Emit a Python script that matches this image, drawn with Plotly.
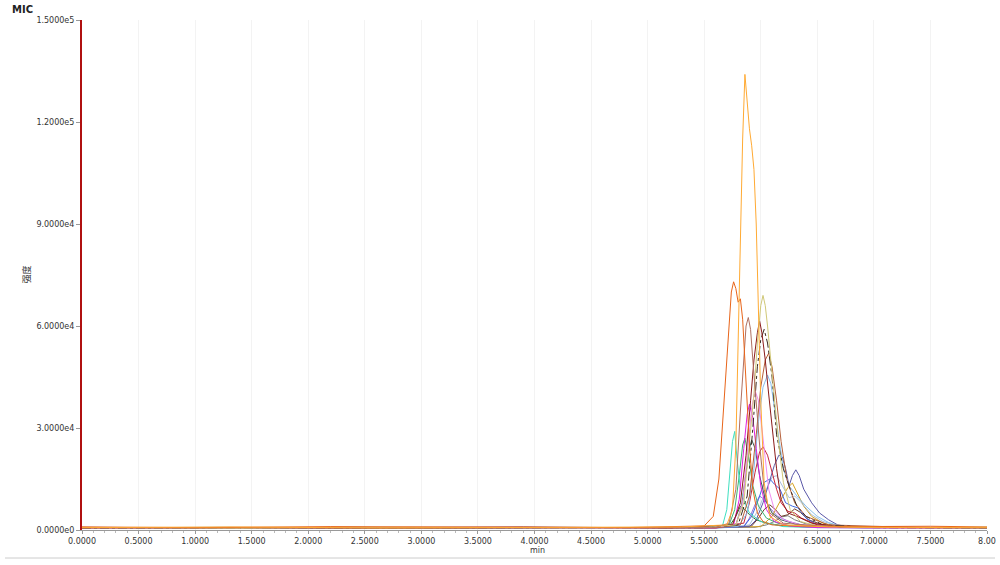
import plotly.graph_objects as go

# ---------------- data ----------------
x_tickvals = [0, 0.5, 1, 1.5, 2, 2.5, 3, 3.5, 4, 4.5, 5, 5.5, 6, 6.5, 7, 7.5, 8]
x_ticktext = ["0.0000", "0.5000", "1.0000", "1.5000", "2.0000", "2.5000", "3.0000", "3.5000",
              "4.0000", "4.5000", "5.0000", "5.5000", "6.0000", "6.5000", "7.0000", "7.5000", "8.00"]
y_tickvals = [0, 30000, 60000, 90000, 120000, 150000]
y_ticktext = ["0.0000e0", "3.0000e4", "6.0000e4", "9.0000e4", "1.2000e5", "1.5000e5"]

gray_t = [0, 2.0, 4.0, 5.6, 5.95, 6.05, 6.12, 6.18, 6.24, 6.3, 6.4, 6.6, 7.5, 8]
gray_i = [500, 600, 500, 600, 800, 1500, 2500, 3800, 4200, 3000, 1800, 900, 600, 500]

darkgreen_t = [0, 1.8, 3.6, 5.4, 5.72, 5.78, 5.82, 5.86, 5.9, 5.96, 6.05, 6.2, 6.5, 7.5, 8]
darkgreen_i = [600, 500, 700, 600, 1000, 4000, 7000, 6000, 4500, 3000, 2000, 1200, 800, 600, 500]

mpurple_t = [0, 1.7, 3.3, 5.5, 5.85, 5.9, 5.95, 5.99, 6.03, 6.08, 6.15, 6.25, 6.4, 7.2, 8]
mpurple_i = [500, 700, 600, 600, 1000, 3500, 7500, 10000, 9000, 6500, 4000, 2500, 1200, 600, 500]

sienna_t = [0, 2.2, 4.4, 5.6, 5.92, 5.98, 6.03, 6.08, 6.13, 6.18, 6.24, 6.3, 6.35, 6.42, 6.55, 6.75, 7.5, 8]
sienna_i = [700, 600, 500, 700, 1200, 3500, 6000, 7400, 6000, 4000, 4500, 6200, 5200, 3000, 1500, 800, 600, 700]

goldenrod_t = [0, 1.4, 2.8, 4.2, 5.6, 6.0, 6.1, 6.18, 6.24, 6.28, 6.32, 6.38, 6.45, 6.55, 6.7, 7.4, 8]
goldenrod_i = [600, 700, 500, 600, 700, 1000, 4000, 9000, 12500, 13800, 11000, 7000, 4000, 2000, 900, 600, 700]

steelblue_t = [0, 1.6, 3.1, 4.6, 5.7, 5.9, 5.98, 6.05, 6.1, 6.14, 6.2, 6.25, 6.3, 6.36, 6.45, 6.55, 6.7, 7.3, 8]
steelblue_i = [500, 600, 700, 500, 700, 1500, 6000, 12000, 15500, 16000, 12500, 9500, 10000, 8000, 4500, 2500, 1100, 600, 500]

royalblue_t = [0, 1.3, 2.7, 4.1, 5.6, 5.85, 5.92, 5.98, 6.03, 6.08, 6.12, 6.17, 6.22, 6.28, 6.33, 6.4, 6.5, 6.65, 7.4, 8]
royalblue_i = [600, 500, 600, 700, 600, 1000, 4000, 9000, 14000, 15000, 13500, 12000, 8000, 7000, 6500, 3500, 1500, 800, 600, 500]

slateblue_t = [0, 1.5, 3.0, 4.5, 5.6, 5.9, 5.96, 6.02, 6.08, 6.12, 6.16, 6.19, 6.22, 6.25, 6.28, 6.31, 6.34, 6.38,
               6.45, 6.52, 6.6, 6.68, 6.8, 7.4, 8]
slateblue_i = [600, 500, 700, 600, 700, 1000, 3000, 8000, 15000, 19000, 22000, 21500, 18000, 13000, 16000, 17700,
               16000, 12000, 8000, 5000, 3000, 1500, 800, 600, 500]

crimson_t = [0, 1.9, 3.7, 5.5, 5.85, 5.9, 5.95, 5.99, 6.02, 6.06, 6.1, 6.14, 6.18, 6.24, 6.3, 6.36, 6.5, 6.7, 7.6, 8]
crimson_i = [500, 600, 500, 700, 2000, 8000, 17000, 23000, 24500, 22000, 17000, 12000, 8000, 5500, 5000, 3500, 1500, 800, 600, 500]

slategray_t = [0, 1.2, 2.6, 4.0, 5.5, 5.78, 5.83, 5.87, 5.9, 5.92, 5.95, 5.99, 6.04, 6.1, 6.18, 6.3, 6.5, 7.2, 8]
slategray_i = [600, 700, 500, 600, 700, 1500, 7000, 17000, 24000, 26500, 24000, 16000, 9000, 5000, 3000, 1800, 900, 600, 500]

seagreen_t = [0, 1.6, 3.4, 5.5, 5.72, 5.77, 5.81, 5.84, 5.86, 5.89, 5.93, 5.98, 6.05, 6.15, 6.3, 7.0, 8]
seagreen_i = [500, 700, 600, 600, 1500, 6000, 16000, 25000, 27000, 22000, 13000, 7000, 3500, 2000, 1000, 600, 500]

aqua_t = [0, 1.0, 2.4, 3.8, 5.3, 5.66, 5.7, 5.73, 5.75, 5.77, 5.79, 5.82, 5.86, 5.9, 6.0, 6.2, 6.5, 7.3, 8]
aqua_i = [700, 500, 800, 600, 700, 1000, 6000, 18000, 26000, 29000, 21000, 12000, 8000, 5000, 2500, 1000, 700, 600, 800]

skyblue_t = [0, 1.2, 2.7, 4.0, 5.4, 5.8, 5.88, 5.94, 5.98, 6.02, 6.06, 6.09, 6.12, 6.16, 6.2, 6.25, 6.32, 6.4, 6.5,
             6.6, 6.7, 7.2, 8]
skyblue_i = [600, 800, 500, 600, 700, 1000, 5000, 18000, 32000, 42000, 45600, 43000, 36000, 26000, 18000, 13000,
             10000, 7000, 4000, 2200, 1200, 700, 600]

magenta_t = [0, 1.4, 2.9, 4.4, 5.6, 5.76, 5.81, 5.85, 5.88, 5.9, 5.93, 5.96, 6.0, 6.05, 6.12, 6.25, 6.5, 7.4, 8]
magenta_i = [600, 500, 700, 600, 600, 1500, 9000, 24000, 34000, 37000, 33000, 24000, 13000, 6000, 2500, 1200, 700, 500, 600]

violet_t = [0, 1.6, 3.2, 4.7, 5.6, 5.78, 5.84, 5.88, 5.92, 5.95, 5.98, 6.01, 6.04, 6.07, 6.12, 6.2, 6.35, 7.0, 8]
violet_i = [500, 600, 700, 500, 700, 1500, 8000, 22000, 36000, 41000, 38000, 30000, 20000, 12000, 6000, 3000, 1500, 600, 500]

chocolate_t = [0, 1.3, 2.8, 4.3, 5.6, 5.82, 5.9, 5.96, 6.0, 6.04, 6.07, 6.1, 6.14, 6.18, 6.23, 6.3, 6.4, 6.6, 7.4, 8]
chocolate_i = [600, 700, 500, 700, 600, 1500, 10000, 28000, 42000, 50000, 52000, 48000, 38000, 26000, 15000, 8000, 4000, 1500, 700, 600]

blackdash_t = [0, 2.0, 4.0, 5.5, 5.8, 5.88, 5.93, 5.97, 6.0, 6.03, 6.06, 6.1, 6.14, 6.2, 6.26, 6.32, 6.4, 6.55, 7.0, 8]
blackdash_i = [600, 700, 600, 700, 1500, 10000, 30000, 48000, 56000, 59000, 55000, 45000, 28000, 18000, 12000, 7000, 4000, 1500, 700, 600]

darkred_t = [0, 1.1, 2.4, 3.9, 5.2, 5.75, 5.82, 5.87, 5.91, 5.94, 5.97, 5.99, 6.01, 6.04, 6.07, 6.1, 6.14, 6.18,
             6.24, 6.32, 6.45, 6.7, 8]
darkred_i = [800, 600, 700, 900, 600, 1500, 8000, 22000, 38000, 50000, 58000, 61500, 58000, 50000, 40000, 30000,
             18000, 9000, 5000, 4000, 2000, 900, 700]

khaki_t = [0, 1.4, 2.9, 4.3, 5.5, 5.78, 5.85, 5.9, 5.94, 5.97, 6.0, 6.02, 6.04, 6.06, 6.09, 6.12, 6.16, 6.2, 6.26,
           6.35, 6.5, 7.0, 8]
khaki_i = [700, 500, 800, 600, 700, 1500, 8000, 25000, 40000, 55000, 66000, 69000, 66000, 60000, 50000, 38000,
           25000, 14000, 6000, 2500, 1200, 700, 600]

rosybrown_t = [0, 1.5, 3.0, 4.5, 5.6, 5.72, 5.78, 5.82, 5.85, 5.87, 5.89, 5.91, 5.93, 5.96, 5.99, 6.03, 6.08, 6.2,
               6.5, 7.2, 8]
rosybrown_i = [600, 700, 500, 700, 800, 2000, 12000, 35000, 52000, 60000, 62500, 59000, 50000, 38000, 25000,
               12000, 5000, 2000, 1200, 700, 600]

darkorange_t = [0, 1.0, 2.2, 3.5, 4.8, 5.5, 5.58, 5.63, 5.67, 5.71, 5.74, 5.76, 5.78, 5.8, 5.82, 5.84, 5.87, 5.9,
                5.93, 5.97, 6.02, 6.1, 6.3, 6.8, 7.5, 8]
darkorange_i = [900, 700, 1000, 800, 700, 1200, 4000, 15000, 35000, 58000, 70000, 73000, 71000, 67000, 68000,
                62000, 45000, 25000, 12000, 5000, 2500, 1500, 1200, 1000, 1100, 900]

orange_t = [0, 1.3, 2.6, 4.1, 5.3, 5.7, 5.75, 5.78, 5.8, 5.82, 5.84, 5.86, 5.88, 5.9, 5.92, 5.94, 5.96, 5.98, 6.0,
            6.03, 6.08, 6.2, 6.6, 7.3, 8]
orange_i = [700, 900, 600, 800, 900, 1500, 6000, 25000, 55000, 85000, 115000, 134000, 126000, 118000, 113000,
            106000, 90000, 65000, 38000, 14000, 4000, 1500, 900, 700, 800]

series = [
    (gray_t, gray_i, "#7f7f7f", "solid"),
    (darkgreen_t, darkgreen_i, "#2e6b2e", "solid"),
    (mpurple_t, mpurple_i, "#9370db", "solid"),
    (sienna_t, sienna_i, "#6b3a2a", "solid"),
    (goldenrod_t, goldenrod_i, "#d4a020", "solid"),
    (steelblue_t, steelblue_i, "#a8c0de", "solid"),
    (royalblue_t, royalblue_i, "#4169e1", "solid"),
    (slateblue_t, slateblue_i, "#5a58a8", "solid"),
    (crimson_t, crimson_i, "#c8283c", "solid"),
    (slategray_t, slategray_i, "#3f5f55", "solid"),
    (seagreen_t, seagreen_i, "#3cb371", "solid"),
    (aqua_t, aqua_i, "#40e0c0", "solid"),
    (skyblue_t, skyblue_i, "#87beeb", "solid"),
    (magenta_t, magenta_i, "#e020e0", "solid"),
    (violet_t, violet_i, "#f08cf0", "solid"),
    (chocolate_t, chocolate_i, "#b5603a", "solid"),
    (blackdash_t, blackdash_i, "#3a2a20", "dashdot"),
    (darkred_t, darkred_i, "#8b1a1a", "solid"),
    (khaki_t, khaki_i, "#d0c878", "solid"),
    (rosybrown_t, rosybrown_i, "#b07060", "solid"),
    (darkorange_t, darkorange_i, "#e8651a", "solid"),
    (orange_t, orange_i, "#ffaa33", "solid"),
]

fig = go.Figure()
for t, i, c, d in series:
    fig.add_trace(go.Scatter(x=t, y=i, mode="lines", line=dict(color=c, width=1, dash=d),
                             hoverinfo="skip", showlegend=False))

# body margin is removed in the page, so the figure fills the window from (0, 0)
W, H = 1000, 565
L, T = 82, 20
PW, PH = 905, 510
tickfont = dict(family="DejaVu Sans", size=8, color="#333333")
fig.update_layout(
    width=W, height=H,
    margin=dict(l=L, r=W - L - PW, t=T, b=H - T - PH, autoexpand=False),
    paper_bgcolor="white", plot_bgcolor="white",
    showlegend=False,
    xaxis=dict(range=[0, 8], tickvals=x_tickvals, ticktext=x_ticktext, tickfont=tickfont,
               showgrid=True, gridcolor="#f3f3f3", zeroline=False,
               showline=True, linecolor="#999999", linewidth=1,
               ticks="outside", ticklen=3, tickcolor="#999999",
               minor=dict(dtick=0.1, ticks="outside", ticklen=2, tickcolor="#bbbbbb", showgrid=False)),
    yaxis=dict(range=[0, 150000], tickvals=y_tickvals, ticktext=y_ticktext, tickfont=tickfont,
               showgrid=False, zeroline=False,
               showline=True, linecolor="#b01010", linewidth=2,
               ticks="outside", ticklen=4, tickcolor="#999999"),
    annotations=[
        dict(text="<b>MIC</b>", x=(10 - L) / PW, y=(530 - 9) / PH, xref="paper", yref="paper",
             xanchor="left", yanchor="middle", showarrow=False,
             font=dict(family="DejaVu Sans", size=10, color="#222222")),
        dict(text="强度", x=(17 - L) / PW, y=0.5, xref="paper", yref="paper", textangle=-90,
             showarrow=False, font=dict(family="Noto Sans CJK SC", size=9, color="#333333")),
        dict(text="min", x=0.503, y=(530 - 550) / PH, xref="paper", yref="paper",
             yanchor="middle", showarrow=False,
             font=dict(family="DejaVu Sans", size=8, color="#333333")),
    ],
    shapes=[
        dict(type="line", xref="paper", yref="paper", x0=(5 - L) / PW, x1=(995 - L) / PW,
             y0=(530 - 558) / PH, y1=(530 - 558) / PH, line=dict(color="#cccccc", width=1)),
    ],
)

fig.write_html("out.html", config={"displayModeBar": False},
               post_script="document.body.style.margin='0';document.body.style.overflow='hidden';")
